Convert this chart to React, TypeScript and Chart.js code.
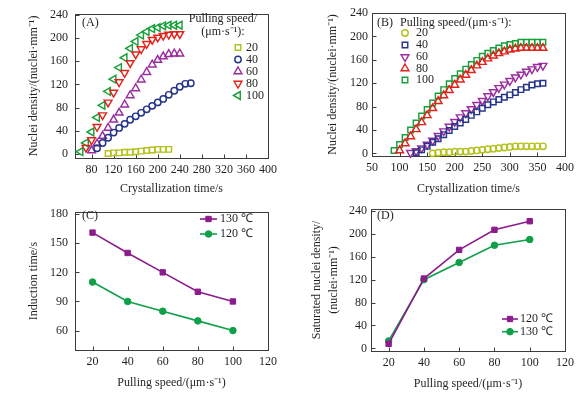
import React, { useEffect, useRef } from 'react';
import { Chart, registerables } from 'chart.js';
import { drawPoint } from 'chart.js/helpers';

Chart.register(...registerables);

const SERIF = '"Liberation Serif", "Times New Roman", Times, serif';
const TEXT = '#231f20';
const AXIS = '#3c3c3c';

const YG = '#b4c21a';
const BLUE = '#27348b';
const PURPLE = '#9b2d9f';
const RED = '#e2231a';
const GREEN = '#17a03a';
const C_PURPLE = '#8c1c8c';
const C_GREEN = '#10a04a';

// ---------- Panel A (120 ℃): nuclei density vs time ----------
const A_T20 = [110, 120, 130, 140, 150, 160, 170, 180, 190, 200, 210, 220];
const A_N20 = [1, 2, 2, 3, 3, 4, 5, 6, 7, 8, 8, 8];
const A_T40 = [90, 100, 110, 120, 130, 140, 150, 160, 170, 180, 190, 200, 210, 220, 230, 240, 250, 260];
const A_N40 = [10, 19, 28, 37, 45, 52, 59, 65, 71, 77, 83, 89, 95, 102, 109, 116, 121, 122];
const A_T60 = [80, 90, 100, 110, 120, 130, 140, 150, 160, 170, 180, 190, 200, 210, 220, 230, 240];
const A_N60 = [6, 18, 31, 45, 59, 71, 85, 101, 113, 128, 141, 154, 162, 168, 172, 173, 173];
const A_T80 = [70, 80, 90, 100, 110, 120, 130, 140, 150, 160, 170, 180, 190, 200, 210, 220, 230, 240];
const A_N80 = [11, 24, 47, 67, 89, 106, 124, 140, 157, 172, 181, 190, 197, 201, 204, 206, 207, 207];
const A_T100 = [60, 70, 80, 90, 100, 110, 120, 130, 140, 150, 160, 170, 180, 190, 200, 210, 220, 230, 240];
const A_N100 = [4, 19, 38, 63, 84, 108, 129, 149, 166, 182, 194, 205, 211, 216, 218, 221, 222, 222, 222];

// ---------- Panel B (130 ℃) ----------
const B_T20 = [160, 170, 180, 190, 200, 210, 220, 230, 240, 250, 260, 270, 280, 290, 300, 310, 320, 330, 340, 350, 360];
const B_N20 = [0, 1, 2, 2, 3, 3, 3, 4, 5, 6, 7, 8, 9, 10, 11, 12, 12, 12, 12, 12, 12];
const B_T40 = [130, 140, 150, 160, 170, 180, 190, 200, 210, 220, 230, 240, 250, 260, 270, 280, 290, 300, 310, 320, 330, 340, 350, 360];
const B_N40 = [1, 6, 12, 19, 25, 32, 39, 46, 52, 58, 65, 71, 77, 83, 88, 92, 96, 100, 104, 109, 113, 117, 119, 120];
const B_T60 = [120, 130, 140, 150, 160, 170, 180, 190, 200, 210, 220, 230, 240, 250, 260, 270, 280, 290, 300, 310, 320, 330, 340, 350, 360];
const B_N60 = [1, 4, 9, 15, 22, 30, 38, 46, 54, 62, 69, 76, 83, 90, 98, 105, 112, 118, 124, 130, 135, 140, 144, 148, 150];
const B_T80 = [100, 110, 120, 130, 140, 150, 160, 170, 180, 190, 200, 210, 220, 230, 240, 250, 260, 270, 280, 290, 300, 310, 320, 330, 340, 350, 360];
const B_N80 = [5, 17, 29, 41, 53, 65, 77, 89, 99, 108, 117, 126, 134, 142, 150, 156, 162, 167, 171, 174, 177, 179, 180, 180, 180, 180, 180];
const B_T100 = [90, 100, 110, 120, 130, 140, 150, 160, 170, 180, 190, 200, 210, 220, 230, 240, 250, 260, 270, 280, 290, 300, 310, 320, 330, 340, 350, 360];
const B_N100 = [5, 15, 27, 40, 52, 64, 75, 86, 98, 109, 119, 128, 136, 144, 152, 159, 166, 171, 176, 180, 184, 186, 188, 190, 190, 190, 190, 190];

// ---------- Panels C & D ----------
const SPEEDS = [20, 40, 60, 80, 100];
const C_130 = [161, 140, 120, 100, 90];
const C_120 = [110, 90, 80, 70, 60];
const D_120 = [8, 122, 172, 207, 222];
const D_130 = [13, 120, 150, 180, 190];

const SPEED_LABELS = ['20', '40', '60', '80', '100'];
const A_X_TICKS = [80, 120, 160, 200, 240, 280, 320, 360, 400];
const B_X_TICKS = [50, 100, 150, 200, 250, 300, 350, 400];
const DENSITY_TICKS = [0, 40, 80, 120, 160, 200, 240];
const SPEED_TICKS = [20, 40, 60, 80, 100, 120];
const TIME_TICKS = [60, 90, 120, 150, 180];

type Series = {
  label: string; xs: number[]; ys: number[]; color: string;
  style: string; rot: number; r: number; filled?: boolean; line?: boolean;
};

const SQ = { style: 'rect', rot: 0, r: 3.9 };
const CI = { style: 'circle', rot: 0, r: 3.2 };
const UP = { style: 'triangle', rot: 0, r: 4.5 };
const DN = { style: 'triangle', rot: 180, r: 4.5 };
const LT = { style: 'triangle', rot: 270, r: 4.5 };

type Legend = {
  headers: { text: string; x: number; y: number; align: CanvasTextAlign }[];
  mx: number; tx: number; ys: number[]; line?: [number, number]; order: number[];
};

type Spec = {
  series: Series[];
  area: { l: number; t: number; r: number; b: number };
  xMin: number; xMax: number; xTicks: number[];
  yMin: number; yMax: number; yTicks: number[];
  xTitle: string; yTitle: string | string[];
  xTitlePad: number; yTitlePad: number; yTitleLH: number;
  yTickPad: number; xTickPad: number;
  tag: string; tagX: number; tagY: number;
  legend: Legend;
};

const W = 290;
const H = 198;
const HOLLOW_BW = 1.45;

function marker(ctx: CanvasRenderingContext2D, s: Series, x: number, y: number) {
  ctx.save();
  ctx.strokeStyle = s.color;
  ctx.fillStyle = s.filled ? s.color : 'rgba(0,0,0,0)';
  const bw = s.filled ? 1 : HOLLOW_BW;
  ctx.lineWidth = bw;
  drawPoint(ctx, { pointStyle: s.style, rotation: s.rot, radius: s.r, borderWidth: bw } as any, x, y);
  ctx.restore();
}

function makeConfig(spec: Spec): any {
  const { area } = spec;
  const font = { family: SERIF, size: 12 };
  const decor = {
    id: 'decor',
    beforeDatasetsDraw(chart: any) {
      const { ctx, chartArea: a, scales } = chart;
      ctx.save();
      ctx.strokeStyle = AXIS;
      ctx.lineWidth = 1;
      const l = Math.round(a.left) + 0.5, t = Math.round(a.top) + 0.5;
      const r = Math.round(a.right) + 0.5, b = Math.round(a.bottom) + 0.5;
      ctx.strokeRect(l, t, r - l, b - t);
      ctx.beginPath();
      scales.x.ticks.forEach((tk: any) => {
        const px = Math.round(scales.x.getPixelForValue(tk.value)) + 0.5;
        ctx.moveTo(px, b); ctx.lineTo(px, b - 4);
      });
      scales.y.ticks.forEach((tk: any) => {
        const py = Math.round(scales.y.getPixelForValue(tk.value)) + 0.5;
        ctx.moveTo(l, py); ctx.lineTo(l + 4, py);
      });
      ctx.stroke();
      ctx.restore();
    },
    afterDraw(chart: any) {
      const ctx: CanvasRenderingContext2D = chart.ctx;
      ctx.save();
      ctx.font = `12px ${SERIF}`;
      ctx.fillStyle = TEXT;
      ctx.textBaseline = 'middle';
      ctx.textAlign = 'left';
      ctx.fillText(spec.tag, spec.tagX, spec.tagY);
      const lg = spec.legend;
      lg.headers.forEach((h) => {
        ctx.textAlign = h.align;
        ctx.fillText(h.text, h.x, h.y);
      });
      lg.order.forEach((si, i) => {
        const s = spec.series[si];
        const y = lg.ys[i];
        if (lg.line) {
          ctx.save();
          ctx.strokeStyle = s.color;
          ctx.lineWidth = 1.6;
          ctx.beginPath();
          ctx.moveTo(lg.line[0], y); ctx.lineTo(lg.line[1], y);
          ctx.stroke();
          ctx.restore();
        }
        marker(ctx, s, lg.mx, y);
        ctx.fillStyle = TEXT;
        ctx.textAlign = 'left';
        ctx.fillText(s.label, lg.tx, y);
      });
      ctx.restore();
    },
  };

  return {
    type: 'scatter',
    data: {
      datasets: spec.series.map((s) => ({
        label: s.label,
        data: s.xs.map((x, i) => ({ x, y: s.ys[i] })),
        showLine: !!s.line,
        borderColor: s.color,
        backgroundColor: s.filled ? s.color : 'rgba(0,0,0,0)',
        pointBorderColor: s.color,
        pointBackgroundColor: s.filled ? s.color : 'rgba(0,0,0,0)',
        pointStyle: s.style,
        pointRotation: s.rot,
        pointRadius: s.r,
        pointHoverRadius: s.r,
        pointBorderWidth: s.filled ? 1 : HOLLOW_BW,
        borderWidth: 1.6,
        clip: false,
      })),
    },
    options: {
      responsive: false,
      animation: false,
      devicePixelRatio: 1,
      layout: { padding: { left: 0, top: area.t, right: W - area.r, bottom: 0 } },
      plugins: { legend: { display: false }, tooltip: { enabled: false } },
      scales: {
        x: {
          type: 'linear',
          min: spec.xMin,
          max: spec.xMax,
          afterBuildTicks: (s: any) => { s.ticks = spec.xTicks.map((v) => ({ value: v })); },
          afterFit: (s: any) => { s.height = H - area.b; },
          grid: { display: false, drawTicks: false },
          border: { display: false },
          ticks: { font, color: TEXT, padding: spec.xTickPad, maxRotation: 0, autoSkip: false },
          title: {
            display: true, text: spec.xTitle, font, color: TEXT,
            padding: { top: 0, bottom: spec.xTitlePad },
          },
        },
        y: {
          type: 'linear',
          min: spec.yMin,
          max: spec.yMax,
          afterBuildTicks: (s: any) => { s.ticks = spec.yTicks.map((v) => ({ value: v })); },
          afterFit: (s: any) => { s.width = area.l; },
          grid: { display: false, drawTicks: false },
          border: { display: false },
          ticks: { font, color: TEXT, padding: spec.yTickPad, autoSkip: false },
          title: {
            display: true, text: spec.yTitle,
            font: { family: SERIF, size: 12, lineHeight: spec.yTitleLH }, color: TEXT,
            padding: { top: spec.yTitlePad, bottom: 0 },
          },
        },
      },
    },
    plugins: [decor],
  };
}

const SPEED_TITLE = 'Pulling speed/(\u03bcm\u00b7s\u207b\u00b9)';
const DENSITY_TITLE = 'Nuclei density/(nuclei\u00b7mm\u207b\u00b9)';

const specA: Spec = {
  series: [
    { label: SPEED_LABELS[0], xs: A_T20, ys: A_N20, color: YG, ...SQ },
    { label: SPEED_LABELS[1], xs: A_T40, ys: A_N40, color: BLUE, ...CI },
    { label: SPEED_LABELS[2], xs: A_T60, ys: A_N60, color: PURPLE, ...UP },
    { label: SPEED_LABELS[3], xs: A_T80, ys: A_N80, color: RED, ...DN },
    { label: SPEED_LABELS[4], xs: A_T100, ys: A_N100, color: GREEN, ...LT },
  ],
  area: { l: 75, t: 13, r: 268, b: 157.5 },
  xMin: 50, xMax: 400, xTicks: A_X_TICKS,
  yMin: -6, yMax: 241, yTicks: DENSITY_TICKS,
  xTitle: 'Crystallization time/s', yTitle: DENSITY_TITLE,
  xTitlePad: 1.8, yTitlePad: 27, yTitleLH: 1.2,
  yTickPad: 7, xTickPad: 5,
  tag: '(A)', tagX: 82, tagY: 23,
  legend: {
    headers: [
      { text: 'Pulling speed/', x: 223, y: 19, align: 'center' },
      { text: '(\u03bcm\u00b7s\u207b\u00b9):', x: 223, y: 32, align: 'center' },
    ],
    mx: 238, tx: 246, ys: [47.5, 59.5, 71.5, 83.5, 95.5], order: [0, 1, 2, 3, 4],
  },
};

const specB: Spec = {
  series: [
    { label: SPEED_LABELS[0], xs: B_T20, ys: B_N20, color: YG, ...CI },
    { label: SPEED_LABELS[1], xs: B_T40, ys: B_N40, color: BLUE, ...SQ },
    { label: SPEED_LABELS[2], xs: B_T60, ys: B_N60, color: PURPLE, ...DN },
    { label: SPEED_LABELS[3], xs: B_T80, ys: B_N80, color: RED, ...UP },
    { label: SPEED_LABELS[4], xs: B_T100, ys: B_N100, color: GREEN, ...SQ },
  ],
  area: { l: 82, t: 13, r: 275, b: 156 },
  xMin: 50, xMax: 400, xTicks: B_X_TICKS,
  yMin: -4.5, yMax: 240, yTicks: DENSITY_TICKS,
  xTitle: 'Crystallization time/s', yTitle: DENSITY_TITLE,
  xTitlePad: 1.8, yTitlePad: 36, yTitleLH: 1.2,
  yTickPad: 4, xTickPad: 5,
  tag: '(B)', tagX: 87, tagY: 23,
  legend: {
    headers: [
      { text: 'Pulling speed/(\u03bcm\u00b7s\u207b\u00b9):', x: 110, y: 23, align: 'left' },
    ],
    mx: 115, tx: 126, ys: [33, 45, 57, 68.5, 80], order: [0, 1, 2, 3, 4],
  },
};

const specC: Spec = {
  series: [
    { label: '130 \u2103', xs: SPEEDS, ys: C_130, color: C_PURPLE, style: 'rect', rot: 0, r: 3.8, filled: true, line: true },
    { label: '120 \u2103', xs: SPEEDS, ys: C_120, color: C_GREEN, style: 'circle', rot: 0, r: 3.3, filled: true, line: true },
  ],
  area: { l: 75, t: 10, r: 268, b: 152 },
  xMin: 10, xMax: 120, xTicks: SPEED_TICKS,
  yMin: 40, yMax: 182, yTicks: TIME_TICKS,
  xTitle: SPEED_TITLE, yTitle: 'Induction time/s',
  xTitlePad: 5.5, yTitlePad: 27, yTitleLH: 1.2,
  yTickPad: 7, xTickPad: 5,
  tag: '(C)', tagX: 82, tagY: 17.7,
  legend: { headers: [], mx: 208.5, tx: 220, ys: [21, 36], line: [200, 217], order: [0, 1] },
};

const specD: Spec = {
  series: [
    { label: '120 \u2103', xs: SPEEDS, ys: D_120, color: C_PURPLE, style: 'rect', rot: 0, r: 3.8, filled: true, line: true },
    { label: '130 \u2103', xs: SPEEDS, ys: D_130, color: C_GREEN, style: 'circle', rot: 0, r: 3.3, filled: true, line: true },
  ],
  area: { l: 81, t: 10, r: 275, b: 152.7 },
  xMin: 10, xMax: 120, xTicks: SPEED_TICKS,
  yMin: -4, yMax: 243, yTicks: DENSITY_TICKS,
  xTitle: SPEED_TITLE, yTitle: ['Saturated nuclei density/', '(nuclei\u00b7mm\u207b\u00b9)'],
  xTitlePad: 4.8, yTitlePad: 18.3, yTitleLH: 1.4,
  yTickPad: 4, xTickPad: 5,
  tag: '(D)', tagX: 87, tagY: 17.7,
  legend: { headers: [], mx: 220, tx: 230, ys: [121, 133.7], line: [212, 228], order: [0, 1] },
};

function Panel({ spec, left, top }: { spec: Spec; left: number; top: number }) {
  const ref = useRef<HTMLCanvasElement>(null);
  useEffect(() => {
    const chart = new Chart(ref.current as HTMLCanvasElement, makeConfig(spec));
    return () => chart.destroy();
  }, [spec]);
  return (
    <div style={{ position: 'absolute', left, top, width: W, height: H }}>
      <canvas ref={ref} width={W} height={H} style={{ display: 'block', width: W, height: H }} />
    </div>
  );
}

export default function App() {
  return (
    <div style={{ position: 'fixed', left: 0, top: 0, width: 580, height: 396, background: '#fff' }}>
      <Panel spec={specA} left={0} top={0} />
      <Panel spec={specB} left={290} top={0} />
      <Panel spec={specC} left={0} top={198} />
      <Panel spec={specD} left={290} top={198} />
    </div>
  );
}
